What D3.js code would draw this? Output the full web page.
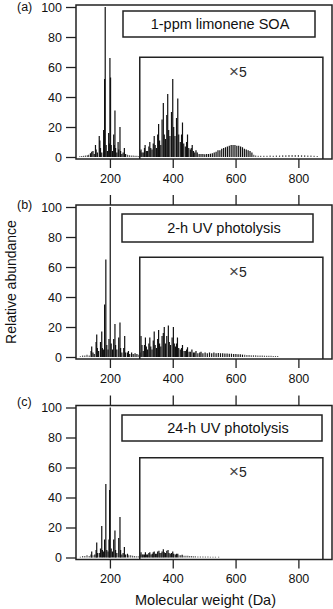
<!DOCTYPE html>
<html>
<head>
<meta charset="utf-8">
<script src="https://cdn.jsdelivr.net/npm/d3@7"></script>
<style>
  body { margin: 0; background: #fff; }
  svg { display: block; font-family: "Liberation Sans", Arial, Helvetica, sans-serif; }
</style>
</head>
<body>
<div id="chart"></div>
<script>
// stick spectra, [mass (Da), displayed relative abundance]; above ~295 Da the values are the x5 ones
const peaksA = [
  [104,0.5],[110,0.6],[116,0.8],[122,1],[128,1.2],[132,1.5],[138,2.5],[142,3.5],[146,4],[150,2],
  [154,8],[156,5],[160,3],[166,14],[168,11],[170,6],[174,3],[180,18],[182,10],[183,52],[185,100],
  [188,8],[192,4],[196,16],[198,9],[200,66],[202,53],[204,8],[208,4],[212,15],[214,8],[216,31],
  [218,6],[222,3],[226,10],[228,5],[232,20],[234,4],[238,2],[242,3],[246,6],[250,2],[256,1.5],
  [262,1.2],[268,1],[274,1],[280,0.8],[286,0.8],[292,0.6],
  [296,4],[299,5],[302,3],[306,3],[310,6],[312,8],[316,4],[320,4],[324,7],[327,10],[330,6],
  [334,5],[338,9],[341,14],[344,8],[348,6],[352,15],[355,22],[358,11],[362,8],[366,25],[370,36],
  [373,15],[377,12],[381,28],[384,42],[387,18],[391,14],[396,30],[400,52],[403,20],[407,14],
  [412,26],[416,39],[419,15],[424,10],[428,15],[431,23],[435,9],[440,7],[444,10],[447,15],[451,6],
  [456,5],[459,6],[462,8],[466,4],[470,3],[474,4.5],[478,3],[484,2],[490,2],[496,2],[502,1.8],
  [508,2],[514,2],[520,2.2],[526,2.5],[532,3],[538,3.5],[544,4.5],[550,4.5],[556,5.5],[562,6],
  [568,6.5],[574,7],[580,7.5],[586,8],[592,8],[598,8],[604,7.5],[610,7.5],[616,7],[622,6.5],
  [628,5.5],[634,5],[640,4.5],[646,4],[652,3],[658,1.5],[664,1],[672,0.8],[680,0.8],[690,0.8],
  [700,0.8],[710,1],[720,0.8],[730,1],[740,1],[750,1.2],[760,1.2],[770,1.3],[780,1.3],[790,1.3],
  [800,1.3],[810,1.2],[820,1.2],[830,1],[840,1],[850,0.8],[860,0.6]
];

const peaksB = [
  [106,0.5],[113,1],[120,1],[127,1.5],[134,1],[140,4],[142,7],[146,3],[150,2],[156,10],[158,15],
  [160,6],[164,4],[170,10],[174,17],[176,6],[180,5],[183,35],[187,65],[190,8],[194,5],[197,12],
  [201,100],[204,9],[208,5],[212,12],[216,22],[218,8],[222,5],[228,13],[232,23],[234,6],[238,3],
  [244,6],[247,14],[250,3],[256,3],[259,4],[263,2],[269,3],[274,2],[280,2.5],[286,2],[292,1.5],
  [296,3],[299,14],[302,8],[306,4],[310,8],[313,13],[316,7],[320,5],[324,9],[327,13],[330,7],
  [334,5],[338,11],[341,17],[344,8],[348,6],[352,12],[355,18],[358,9],[362,7],[366,14],[370,16],
  [373,20],[377,9],[381,14],[386,21],[389,10],[393,8],[398,13],[402,20],[405,9],[409,7],[412,9],
  [415,13],[419,6],[424,5],[428,6],[431,8],[436,4],[440,4],[444,5],[447,6.5],[452,3.5],[456,3.5],
  [461,5],[466,3],[470,3],[474,4],[480,2.5],[486,3],[490,3.5],[496,2.5],[503,3],[510,2.5],[517,3],
  [524,2.5],[531,3],[538,2.5],[545,2.7],[552,2.5],[559,2.5],[566,2.3],[573,2.3],[580,2.2],
  [587,2.2],[594,2],[601,2],[608,1.8],[615,1.8],[622,1.6],[629,1.5],[636,1.4],[643,1.3],[650,1.2],
  [657,1.2],[664,1.1],[671,1],[678,1],[685,1],[692,0.9],[699,0.9],[706,0.8],[713,0.8],[720,0.7],
  [727,0.7],[734,0.6]
];

const peaksC = [
  [106,0.5],[113,1],[120,1],[127,1.5],[134,1],[140,2],[142,4],[146,1.5],[152,2],[156,5],[158,10],
  [160,3],[166,3],[170,6],[174,21],[176,5],[180,4],[183,12],[187,49],[190,5],[194,4],[197,12],
  [199,45],[201,100],[204,6],[208,4],[212,12],[216,18],[218,5],[222,3],[228,13],[232,27],[234,5],
  [238,2],[242,3],[246,7],[250,2],[256,2.5],[260,1.5],[266,1.5],[272,1.2],[278,1],[284,0.8],[290,0.8],
  [296,2],[299,3.5],[303,2],[306,2],[310,2],[313,3.5],[317,2],[320,2],[324,3],[327,3.5],[331,2],
  [335,2.5],[338,3.5],[341,4],[345,2.5],[349,2.5],[352,4],[356,4.5],[359,3],[363,3],[366,4],
  [370,5.5],[373,3.5],[377,3],[381,4.5],[385,5],[388,3],[392,2.5],[396,3],[400,4],[403,2.5],
  [408,2],[412,2.5],[416,2.5],[420,1.5],[425,1.5],[430,1.8],[436,1.2],[442,1.2],[448,1.2],
  [454,1],[460,1],[466,0.8],[472,0.8],[480,0.7],[488,0.7],[496,0.6],[504,0.6],[512,0.6],
  [520,0.5],[528,0.5],[536,0.5],[546,0.5]
];

const panelLetters = ["(a)", "(b)", "(c)"];
const panelTitles = ["1-ppm limonene SOA", "2-h UV photolysis", "24-h UV photolysis"];
const xTicks = [200, 400, 600, 800];
const yTicks = [0, 20, 40, 60, 80, 100];
const xTitle = "Molecular weight (Da)";
const yTitle = "Relative abundance";

const W = 333, H = 609;
const plotH = 154;
const panelTops = [5, 205, 405.5];
// legend boxes: [x0, x1, top, bottom] relative to each panel, plus text centre x
const legendBoxes = [[123, 315, 6, 32, 220], [122, 313, 9, 37, 224], [122, 322, 9.5, 35.5, 228]];
const insetRange = [295, 878, 66.5];

const svg = d3.select("#chart").append("svg")
  .attr("width", W)
  .attr("height", H);

const x = d3.scaleLinear().domain([92, 907]).range([76, 332]);
const y = d3.scaleLinear().domain([0, 100]).range([152, 2]);

const allPeaks = [peaksA, peaksB, peaksC];

allPeaks.forEach((peaks, i) => {
  const g = svg.append("g").attr("transform", `translate(0, ${panelTops[i]})`);

  // sticks
  g.append("g")
    .selectAll("line")
    .data(peaks)
    .join("line")
    .attr("x1", d => x(d[0]))
    .attr("x2", d => x(d[0]))
    .attr("y1", y(0))
    .attr("y2", d => y(d[1]))
    .attr("stroke", d => d[1] < 1.6 ? "#555" : "#111")
    .attr("stroke-width", 1.2);

  // frame
  g.append("rect")
    .attr("x", x.range()[0])
    .attr("y", 0)
    .attr("width", x.range()[1] - x.range()[0])
    .attr("height", plotH)
    .attr("fill", "none")
    .attr("stroke", "#222")
    .attr("stroke-width", 1.5);

  // x5 inset box (open at the bottom, sits on the frame)
  g.append("path")
    .attr("d", `M${x(insetRange[0])},${plotH} V${y(insetRange[2])} H${x(insetRange[1])} V${plotH}`)
    .attr("fill", "none")
    .attr("stroke", "#222")
    .attr("stroke-width", 1.5);

  const zl = g.append("text")
    .attr("x", 229)
    .attr("y", y(53.5))
    .attr("font-size", 14)
    .attr("fill", "#222");
  zl.append("tspan").attr("font-size", 17).attr("fill", "#444").attr("font-weight", 300).text("\u00d7");
  zl.append("tspan").text("5");

  // legend box
  const lb = legendBoxes[i];
  g.append("rect")
    .attr("x", lb[0])
    .attr("y", lb[2])
    .attr("width", lb[1] - lb[0])
    .attr("height", lb[3] - lb[2])
    .attr("fill", "#fff")
    .attr("stroke", "#222")
    .attr("stroke-width", 1.5);
  g.append("text")
    .attr("x", lb[4])
    .attr("y", (lb[2] + lb[3]) / 2 + 5)
    .attr("text-anchor", "middle")
    .attr("font-size", 14.5)
    .attr("fill", "#111")
    .text(panelTitles[i]);

  // axes
  const yAxis = g.append("g")
    .attr("transform", `translate(${x.range()[0]},0)`)
    .call(d3.axisLeft(y).tickValues(yTicks).tickSize(10).tickPadding(4));
  const xAxis = g.append("g")
    .attr("transform", `translate(0,${plotH})`)
    .call(d3.axisBottom(x).tickValues(xTicks).tickSize(9).tickPadding(6));
  [yAxis, xAxis].forEach(a => {
    a.select(".domain").remove();
    a.selectAll("line").attr("stroke", "#222").attr("stroke-width", 1.3);
    a.selectAll("text").attr("font-size", 12.5).attr("fill", "#111")
      .style("font-family", "'Liberation Sans', Arial, sans-serif");
  });
  if (i > 0) {
    const topAxis = g.append("g")
      .call(d3.axisTop(x).tickValues(xTicks).tickSize(10).tickFormat(""));
    topAxis.select(".domain").remove();
    topAxis.selectAll("line").attr("stroke", "#222").attr("stroke-width", 1.3);
  }

  g.append("text")
    .attr("x", 17)
    .attr("y", [6, 4, 0.5][i])
    .attr("font-size", 12.5)
    .attr("fill", "#111")
    .text(panelLetters[i]);
});

svg.append("text")
  .attr("transform", "translate(16,282) rotate(-90)")
  .attr("text-anchor", "middle")
  .attr("font-size", 14)
  .attr("fill", "#111")
  .text(yTitle);

svg.append("text")
  .attr("x", 205.5)
  .attr("y", 605)
  .attr("text-anchor", "middle")
  .attr("font-size", 14.5)
  .attr("fill", "#111")
  .text(xTitle);
</script>
</body>
</html>
